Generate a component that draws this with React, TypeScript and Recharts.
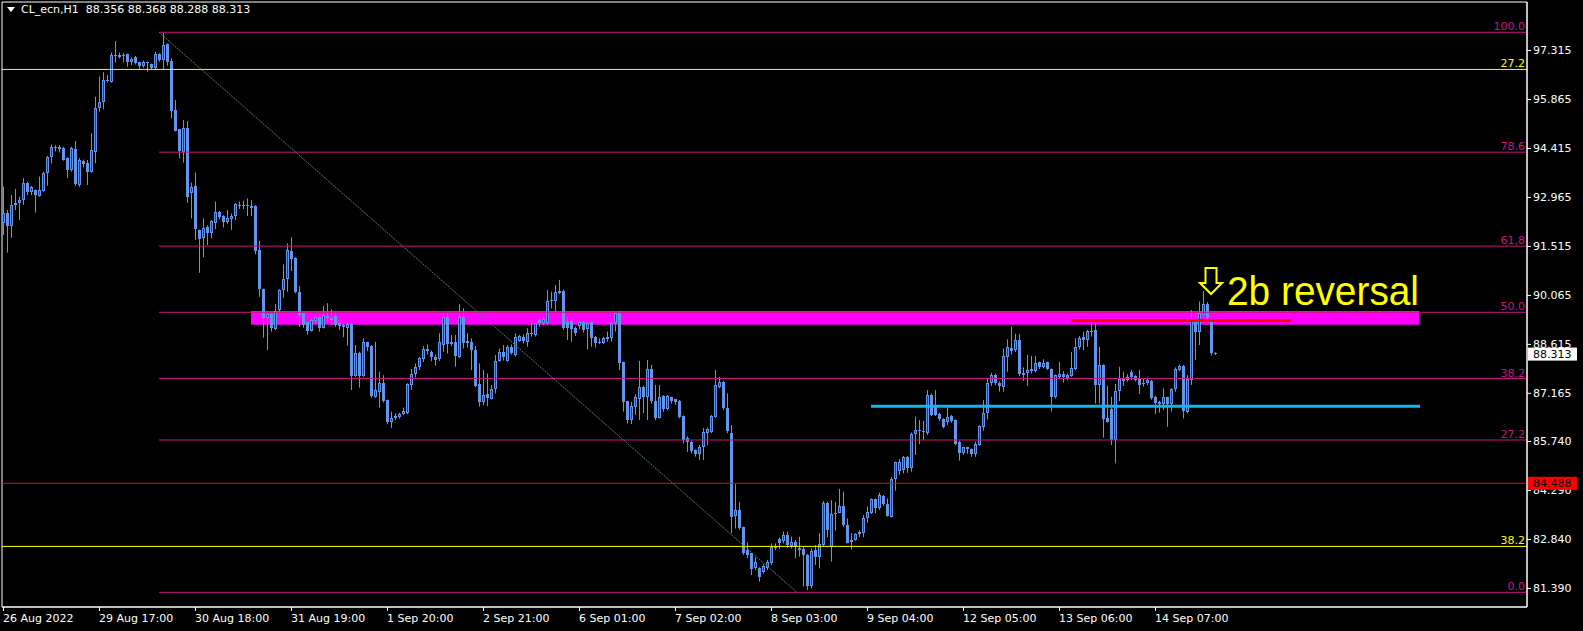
import React from 'react';
import {
  ComposedChart,
  Bar,
  XAxis,
  YAxis,
  ReferenceLine,
  ReferenceArea,
  ReferenceDot,
} from 'recharts';

// CL_ecn H1 candles (bar 0 = 26 Aug 2022)
const opens = [
  92.18, 92.50, 92.11, 92.73, 92.78, 92.86, 93.37, 93.10, 93.17, 93.00,
  93.15, 93.66, 94.14, 94.44, 94.38, 94.42, 94.13, 93.76, 94.38, 93.32,
  94.04, 93.98, 93.71, 94.31, 95.59, 95.79, 96.43, 96.38, 97.17, 97.18,
  97.15, 97.20, 96.97, 97.12, 96.95, 96.85, 96.95, 96.90, 96.79, 97.20,
  97.02, 97.49, 96.99, 95.54, 94.97, 94.31, 95.00, 93.07, 93.29, 91.99,
  91.76, 92.07, 91.91, 92.20, 92.53, 92.40, 92.22, 92.31, 92.40, 92.73,
  92.71, 92.72, 92.70, 92.70, 91.39, 90.24, 89.39, 89.49, 89.06, 89.62,
  90.20, 90.53, 91.36, 91.17, 90.16, 89.52, 89.25, 88.99, 89.29, 89.42,
  89.09, 89.45, 89.39, 89.45, 89.22, 89.17, 89.10, 89.21, 87.67, 88.36,
  87.67, 88.66, 88.56, 87.05, 87.20, 87.45, 86.96, 86.29, 86.43, 86.46,
  86.54, 86.58, 87.40, 87.72, 87.92, 88.16, 88.46, 88.38, 88.22, 88.18,
  88.58, 89.42, 88.68, 88.68, 88.24, 89.42, 88.71, 88.68, 88.43, 87.43,
  86.90, 87.13, 86.99, 87.28, 88.12, 88.38, 88.12, 88.53, 88.29, 88.71,
  88.83, 88.68, 88.95, 88.88, 89.32, 89.22, 89.22, 89.87, 89.87, 90.19,
  90.19, 89.27, 89.30, 89.08, 89.13, 89.27, 89.05, 89.27, 88.83, 88.68,
  88.63, 88.75, 88.80, 89.22, 89.54, 88.07, 86.92, 86.36, 86.76, 86.97,
  87.35, 87.05, 87.86, 86.93, 86.43, 87.08, 86.69, 87.03, 86.97, 86.93,
  86.48, 85.84, 85.72, 85.47, 85.37, 85.57, 85.98, 86.02, 86.46, 87.35,
  87.50, 86.71, 85.97, 83.52, 83.70, 83.18, 82.51, 82.41, 81.97, 81.97,
  81.87, 81.97, 82.12, 82.61, 82.84, 82.78, 82.96, 82.64, 82.76, 82.56,
  82.53, 82.37, 81.45, 82.51, 82.31, 82.66, 83.91, 82.61, 83.58, 83.60,
  83.82, 83.25, 82.81, 82.80, 82.99, 83.03, 83.45, 83.62, 84.01, 83.75,
  84.11, 83.88, 83.50, 84.63, 84.86, 84.88, 85.26, 84.95, 85.96, 86.07,
  86.04, 85.99, 87.10, 86.78, 86.54, 86.38, 86.31, 86.48, 86.36, 85.72,
  85.39, 85.55, 85.50, 85.35, 85.62, 86.16, 86.58, 87.45, 87.69, 87.47,
  87.35, 88.22, 88.49, 88.43, 88.73, 87.76, 87.74, 87.81, 87.82, 88.07,
  87.94, 88.07, 87.87, 87.05, 87.64, 87.72, 87.60, 87.67, 87.87, 88.51,
  88.83, 88.73, 89.00, 89.03, 87.40, 87.99, 86.43, 86.70, 85.77, 87.23,
  87.59, 87.56, 87.77, 87.66, 87.59, 87.47, 87.45, 87.52, 87.05, 86.90,
  86.85, 87.03, 86.85, 87.27, 87.84, 87.96, 86.61, 87.56, 89.30, 88.98,
  89.47, 89.79, 89.27, 88.356,
];

const highs = [
  93.27, 92.58, 93.02, 93.20, 92.97, 93.52, 93.42, 93.29, 93.18, 93.57,
  93.71, 94.18, 94.52, 94.50, 94.50, 94.45, 94.14, 94.45, 94.62, 94.11,
  94.07, 94.06, 94.85, 95.93, 96.53, 96.66, 96.57, 97.24, 97.58, 97.24,
  97.22, 97.21, 97.09, 97.14, 96.96, 97.00, 96.97, 96.91, 97.26, 97.22,
  97.83, 97.51, 97.07, 95.83, 94.98, 95.24, 95.21, 93.39, 93.69, 92.00,
  92.33, 92.13, 92.28, 92.83, 92.55, 92.42, 92.58, 92.48, 92.78, 92.83,
  92.85, 92.92, 92.87, 92.72, 91.67, 90.25, 89.59, 89.55, 89.80, 90.23,
  90.97, 91.59, 91.77, 91.18, 90.33, 89.55, 89.27, 89.37, 89.47, 89.49,
  89.74, 89.82, 89.64, 89.52, 89.32, 89.27, 89.25, 89.23, 88.58, 88.38,
  88.78, 88.68, 88.58, 88.68, 87.79, 87.69, 86.97, 86.61, 86.56, 86.58,
  86.73, 87.45, 87.88, 88.03, 88.23, 88.55, 88.60, 88.42, 88.30, 88.93,
  89.52, 89.52, 88.88, 88.88, 89.79, 89.67, 88.93, 88.78, 88.55, 88.04,
  87.84, 87.74, 87.40, 88.29, 88.48, 88.58, 88.58, 88.60, 88.93, 88.88,
  88.90, 89.08, 89.32, 89.32, 89.39, 89.42, 90.21, 90.16, 90.36, 90.51,
  90.22, 89.42, 89.37, 89.13, 89.32, 89.30, 89.27, 89.30, 88.85, 88.78,
  88.83, 88.98, 89.34, 89.54, 89.59, 88.09, 86.93, 86.90, 87.12, 88.11,
  87.38, 88.14, 87.99, 87.40, 87.40, 87.10, 87.10, 87.05, 86.99, 86.95,
  86.50, 85.88, 85.75, 85.49, 85.62, 86.12, 86.14, 86.51, 87.84, 87.64,
  87.52, 87.15, 86.21, 84.46, 83.94, 83.20, 82.74, 82.43, 82.30, 82.00,
  82.09, 82.22, 82.71, 82.71, 82.88, 83.06, 83.06, 82.91, 82.81, 82.91,
  82.61, 82.40, 82.56, 82.66, 83.01, 83.96, 83.94, 83.99, 83.94, 84.32,
  84.24, 83.45, 83.01, 83.01, 83.10, 83.55, 83.80, 84.04, 84.04, 84.21,
  84.14, 84.04, 84.67, 85.13, 85.20, 85.30, 85.30, 85.99, 86.46, 86.36,
  86.34, 87.25, 87.15, 87.25, 86.58, 86.41, 86.73, 86.51, 86.38, 85.75,
  85.57, 85.57, 85.52, 85.72, 86.21, 86.95, 87.59, 87.76, 87.74, 87.50,
  88.48, 88.75, 89.12, 88.91, 88.91, 87.92, 88.29, 88.26, 88.26, 88.09,
  88.16, 88.09, 87.89, 87.71, 88.08, 87.81, 87.74, 88.38, 88.78, 88.85,
  88.98, 89.03, 89.27, 89.27, 88.53, 88.01, 87.37, 87.05, 87.43, 87.94,
  87.79, 87.72, 87.84, 87.69, 87.84, 87.59, 87.62, 87.55, 87.08, 86.93,
  87.30, 87.05, 87.30, 87.92, 88.01, 87.99, 87.69, 89.62, 89.52, 89.87,
  90.18, 89.85, 89.30, 88.368,
];

const lows = [
  91.84, 91.32, 91.76, 92.58, 92.28, 92.73, 93.02, 93.02, 92.50, 92.97,
  93.12, 93.30, 93.96, 94.31, 94.28, 94.04, 93.52, 93.71, 93.29, 93.27,
  93.84, 93.32, 93.68, 93.96, 95.49, 95.56, 96.35, 96.35, 96.95, 97.07,
  96.95, 96.82, 96.87, 96.89, 96.75, 96.79, 96.67, 96.74, 96.74, 96.97,
  96.75, 96.85, 95.29, 94.90, 94.11, 93.98, 92.79, 92.33, 91.69, 90.72,
  91.18, 91.54, 91.74, 92.01, 92.30, 92.06, 92.16, 91.99, 92.28, 92.61,
  92.61, 92.40, 92.40, 91.27, 90.01, 88.80, 88.43, 88.98, 89.03, 89.52,
  89.98, 90.16, 90.77, 90.11, 89.12, 89.09, 88.88, 88.98, 89.22, 88.98,
  89.07, 89.27, 89.17, 89.12, 89.03, 88.81, 88.56, 87.25, 87.64, 87.32,
  87.64, 88.40, 87.02, 87.02, 86.73, 86.88, 86.24, 86.13, 86.36, 86.40,
  86.50, 86.54, 87.25, 87.62, 87.84, 88.08, 88.30, 88.10, 87.97, 88.11,
  88.38, 88.33, 88.55, 87.94, 88.19, 88.48, 88.51, 87.84, 87.33, 86.76,
  86.80, 86.77, 86.97, 87.15, 88.09, 88.12, 88.09, 88.30, 88.24, 88.68,
  88.63, 88.53, 88.83, 88.83, 89.12, 89.17, 89.17, 89.67, 89.54, 90.09,
  89.03, 88.73, 88.68, 88.85, 89.05, 88.95, 88.45, 88.53, 88.51, 88.61,
  88.61, 88.68, 88.68, 88.98, 87.84, 86.61, 86.26, 86.24, 86.51, 86.36,
  86.56, 86.36, 86.85, 86.36, 86.41, 86.61, 86.65, 86.85, 86.81, 86.41,
  85.67, 85.42, 85.37, 85.28, 85.18, 85.18, 85.62, 85.97, 86.43, 87.30,
  86.66, 85.97, 83.01, 83.15, 83.11, 82.37, 82.27, 81.77, 81.92, 81.58,
  81.82, 81.92, 82.07, 82.51, 82.55, 82.71, 82.58, 82.56, 82.27, 82.32,
  81.43, 81.33, 81.38, 82.07, 81.97, 82.61, 82.89, 82.17, 83.09, 83.60,
  83.20, 82.71, 82.53, 82.79, 82.89, 82.89, 83.32, 83.58, 83.60, 83.70,
  83.82, 83.50, 83.48, 84.27, 84.73, 84.78, 84.80, 84.83, 85.33, 85.65,
  85.77, 85.92, 86.48, 86.48, 86.34, 86.12, 86.21, 86.28, 85.62, 85.16,
  85.33, 85.36, 85.27, 85.27, 85.59, 86.05, 86.38, 87.37, 87.40, 87.20,
  87.20, 87.79, 88.30, 88.38, 87.66, 87.52, 87.37, 87.74, 87.77, 87.87,
  87.89, 87.84, 86.61, 87.00, 87.59, 87.47, 87.54, 87.64, 87.84, 88.45,
  88.43, 88.53, 88.83, 86.85, 86.85, 85.84, 86.28, 85.62, 85.08, 86.92,
  87.37, 87.50, 87.55, 87.50, 87.13, 87.35, 87.40, 86.97, 86.54, 86.58,
  86.66, 86.16, 86.61, 87.20, 87.81, 86.41, 86.56, 87.40, 88.14, 88.58,
  89.37, 89.30, 88.27, 88.288,
];

const closes = [
  92.50, 92.11, 92.73, 92.80, 92.87, 93.37, 93.10, 93.26, 93.02, 93.17,
  93.66, 94.16, 94.45, 94.43, 94.45, 94.06, 93.76, 94.42, 93.35, 94.06,
  93.95, 93.71, 94.35, 95.59, 95.79, 96.43, 96.44, 97.17, 97.15, 97.12,
  97.16, 96.97, 97.05, 96.92, 96.85, 96.96, 96.94, 96.78, 97.20, 97.02,
  97.46, 96.97, 95.51, 94.92, 94.33, 95.00, 92.97, 93.27, 92.01, 91.72,
  92.04, 91.91, 92.25, 92.53, 92.36, 92.22, 92.34, 92.41, 92.76, 92.71,
  92.72, 92.70, 92.65, 91.36, 90.24, 89.39, 89.49, 89.09, 89.59, 90.20,
  90.54, 91.39, 91.13, 90.16, 89.47, 89.17, 88.99, 89.32, 89.42, 89.09,
  89.47, 89.37, 89.32, 89.17, 89.14, 89.12, 89.21, 87.67, 88.36, 87.67,
  88.66, 88.53, 87.08, 87.24, 87.45, 86.93, 86.29, 86.43, 86.48, 86.54,
  86.64, 87.43, 87.72, 87.94, 88.19, 88.46, 88.39, 88.24, 88.14, 88.68,
  89.42, 88.61, 88.61, 88.26, 89.42, 88.65, 88.65, 88.43, 87.37, 86.90,
  87.10, 87.00, 87.28, 88.12, 88.38, 88.22, 88.51, 88.35, 88.83, 88.85,
  88.71, 88.95, 88.91, 89.22, 89.22, 89.34, 89.88, 89.91, 90.16, 90.13,
  89.08, 89.08, 89.05, 88.95, 89.27, 89.03, 89.22, 88.78, 88.65, 88.65,
  88.78, 88.83, 89.22, 89.52, 88.04, 86.90, 86.36, 86.79, 87.03, 87.35,
  87.05, 87.86, 86.93, 86.41, 87.05, 86.69, 87.07, 86.93, 86.90, 86.46,
  85.77, 85.70, 85.44, 85.37, 85.57, 86.02, 86.09, 86.48, 87.40, 87.50,
  86.71, 86.04, 83.50, 83.70, 83.15, 82.41, 82.37, 81.95, 82.17, 81.72,
  82.05, 82.15, 82.61, 82.56, 82.71, 82.96, 82.66, 82.76, 82.61, 82.51,
  82.37, 81.45, 82.49, 82.31, 82.68, 83.91, 83.10, 83.58, 83.62, 83.82,
  83.25, 82.73, 82.76, 82.99, 83.05, 83.45, 83.64, 84.01, 83.75, 84.14,
  83.88, 83.52, 84.63, 85.11, 85.11, 85.26, 84.95, 85.95, 86.07, 86.04,
  86.02, 87.10, 86.51, 86.51, 86.38, 86.16, 86.46, 86.34, 85.65, 85.39,
  85.55, 85.49, 85.35, 85.65, 86.18, 86.58, 87.45, 87.69, 87.45, 87.37,
  88.25, 88.51, 88.41, 88.73, 87.72, 87.69, 87.84, 87.88, 88.06, 87.94,
  88.04, 87.86, 87.05, 87.69, 87.72, 87.64, 87.68, 87.89, 88.51, 88.80,
  88.73, 89.00, 88.97, 87.40, 87.99, 86.40, 86.31, 85.77, 87.23, 87.59,
  87.52, 87.64, 87.62, 87.56, 87.40, 87.42, 87.55, 87.00, 86.87, 86.85,
  87.03, 86.85, 87.27, 87.87, 87.96, 86.64, 87.59, 89.30, 88.98, 89.52,
  89.79, 89.37, 88.34, 88.313,
];

const timeLabels = [
  '26 Aug 2022', '29 Aug 17:00', '30 Aug 18:00', '31 Aug 19:00', '1 Sep 20:00',
  '2 Sep 21:00', '6 Sep 01:00', '7 Sep 02:00', '8 Sep 03:00', '9 Sep 04:00',
  '12 Sep 05:00', '13 Sep 06:00', '14 Sep 07:00',
];
const timeTickBars = [0, 24, 48, 72, 96, 120, 144, 168, 192, 216, 240, 264, 288];

const priceTicks = [
  97.315, 95.865, 94.415, 92.965, 91.515, 90.065, 88.615, 87.165, 85.74, 84.29, 82.84, 81.39,
];
const lastPrice = 88.313;
const alertPrice = 84.488;

// fibo from the 97.84 top to the 81.26 low
const fibPrices = [97.84, 94.29, 91.51, 89.55, 87.59, 85.77, 81.26];
const fibLabels = ['100.0', '78.6', '61,8', '50.0', '38.2', '27.2', '0.0'];
const fibFromBar = 39;
const fibToBar = 198.5;

const yellowPrices = [96.74, 82.62];
const yellowLabels = ['27.2', '38.2'];

const zoneTop = 89.59;
const zoneBottom = 89.18;
const zoneFromBar = 62;
const zoneToBar = 354;

const supportPrice = 86.77;
const supportFromBar = 217;
const supportToBar = 354.25;

const highLinePrice = 89.31;
const highLineFromBar = 267;
const highLineToBar = 322;

const header = 'CL_ecn,H1  88.356 88.368 88.288 88.313';

const xDomain: [number, number] = [-0.25, 381];
const yDomain: [number, number] = [80.826, 98.736];

const font = '"DejaVu Sans", Tahoma, sans-serif';
const fibColor = '#c71585';
const candleColor = '#6495ed';
const bullFill = '#1428ff';

const data = opens.map((o, i) => ({
  i,
  o,
  h: highs[i],
  l: lows[i],
  c: closes[i],
  range: [lows[i], highs[i]],
}));

function Candle(props: any) {
  const { x, y, width, height, payload } = props;
  const { o, h, l, c } = payload;
  const k = h > l ? height / (h - l) : 0;
  const cx = Math.round(x + width / 2);
  const yo = y + (h - o) * k;
  const yc = y + (h - c) * k;
  const top = Math.round(Math.min(yo, yc));
  const bh = Math.max(1, Math.round(Math.max(yo, yc)) - top);
  const bull = c >= o;
  return (
    <g>
      <rect x={cx} y={y} width={1} height={Math.max(1, height)} fill={candleColor} />
      {bull && bh > 2 ? (
        <rect x={cx - 0.5} y={top + 0.5} width={2} height={bh - 1} fill={bullFill} stroke={candleColor} strokeWidth={1} />
      ) : (
        <rect x={cx - 1} y={top} width={3} height={bh} fill={candleColor} />
      )}
    </g>
  );
}

function TimeTick(props: any) {
  const { x, y, payload } = props;
  const idx = timeTickBars.indexOf(payload.value);
  return (
    <g>
      <line x1={x + 0.5} x2={x + 0.5} y1={y} y2={y + 4} stroke="#fff" />
      <text x={x} y={y + 15} fill="#fff" fontSize={11} fontFamily={font}>
        {timeLabels[idx]}
      </text>
    </g>
  );
}

function PriceTick(props: any) {
  const { x, y, payload } = props;
  const v = payload.value;
  if (v === lastPrice || v === alertPrice) {
    const isLast = v === lastPrice;
    return (
      <g>
        <rect x={x + 1} y={y - 6.5} width={49} height={13} fill={isLast ? '#fff' : '#ff0000'} />
        <text x={x + 6} y={y + 4} fill="#000" fontSize={11} fontFamily={font}>
          {v.toFixed(3)}
        </text>
      </g>
    );
  }
  return (
    <g>
      <line x1={x} x2={x + 4} y1={y + 0.5} y2={y + 0.5} stroke="#fff" />
      <text x={x + 6} y={y + 4} fill="#fff" fontSize={11} fontFamily={font}>
        {v.toFixed(3)}
      </text>
    </g>
  );
}

const levelLabel = (text: string, color: string) => (p: any) => {
  const vb = p.viewBox || {};
  return (
    <text
      x={vb.x + vb.width - 2}
      y={vb.y - 2}
      textAnchor="end"
      fill={color}
      fontSize={11}
      fontFamily={font}
    >
      {text}
    </text>
  );
};

function DownArrow(props: any) {
  const { cx, cy } = props;
  const d = [
    `M${cx - 5.5},${cy - 13}`,
    `L${cx + 5.5},${cy - 13}`,
    `L${cx + 5.5},${cy + 2}`,
    `L${cx + 11},${cy + 2}`,
    `L${cx},${cy + 13}`,
    `L${cx - 11},${cy + 2}`,
    `L${cx - 5.5},${cy + 2}`,
    'Z',
  ].join(' ');
  return <path d={d} fill="none" stroke="#ffff00" strokeWidth={2} />;
}

function NoteText(props: any) {
  const { cx, cy } = props;
  return (
    <text
      x={cx}
      y={cy}
      fill="#ffff00"
      fontSize={40}
      textLength={192}
      lengthAdjust="spacingAndGlyphs"
      fontFamily='"Liberation Sans", Arial, sans-serif'
    >
      2b reversal
    </text>
  );
}

export default function App() {
  return (
    <div style={{ position: 'absolute', left: 0, top: 0, width: 1583, height: 631, background: '#000' }}>
      <style>{'body{margin:0;background:#000}'}</style>
      <ComposedChart
        width={1583}
        height={631}
        data={data}
        margin={{ top: 2, right: 0, bottom: 0, left: 2 }}
      >
        <XAxis
          dataKey="i"
          type="number"
          domain={xDomain}
          allowDataOverflow
          ticks={timeTickBars}
          interval={0}
          height={24}
          axisLine={{ stroke: '#fff' }}
          tickLine={false}
          tickSize={0}
          tickMargin={0}
          tick={<TimeTick />}
        />
        <YAxis
          orientation="right"
          type="number"
          domain={yDomain}
          allowDataOverflow
          ticks={[...priceTicks, alertPrice, lastPrice]}
          interval={0}
          width={56}
          axisLine={{ stroke: '#fff' }}
          tickLine={false}
          tickSize={0}
          tickMargin={0}
          tick={<PriceTick />}
        />
        <ReferenceArea
          x1={xDomain[0]}
          x2={xDomain[1]}
          y1={yDomain[0]}
          y2={yDomain[1]}
          fill="none"
          stroke="#fff"
          strokeWidth={1}
        />
        <ReferenceArea
          x1={zoneFromBar}
          x2={zoneToBar}
          y1={zoneBottom}
          y2={zoneTop}
          fill="#ff00ff"
          fillOpacity={1}
          stroke="none"
        />
        {yellowPrices.map((p, k) => (
          <ReferenceLine
            key={`y${k}`}
            y={p}
            stroke="#ffff00"
            strokeWidth={1}
            label={levelLabel(yellowLabels[k], '#ffff00')}
          />
        ))}
        {fibPrices.map((p, k) => (
          <ReferenceLine
            key={`f${k}`}
            segment={[
              { x: fibFromBar, y: p },
              { x: xDomain[1], y: p },
            ]}
            stroke={fibColor}
            strokeWidth={1}
            label={levelLabel(fibLabels[k], fibColor)}
          />
        ))}
        <ReferenceLine y={alertPrice} stroke="#ff0000" strokeWidth={1} />
        <ReferenceLine
          segment={[
            { x: fibFromBar, y: fibPrices[0] },
            { x: fibToBar, y: fibPrices[fibPrices.length - 1] },
          ]}
          stroke="#4d8072"
          strokeDasharray="2 1"
          strokeWidth={1}
        />
        <ReferenceLine
          segment={[
            { x: supportFromBar, y: supportPrice },
            { x: supportToBar, y: supportPrice },
          ]}
          stroke="#14b4ee"
          strokeWidth={3}
        />
        <ReferenceLine
          segment={[
            { x: highLineFromBar, y: highLinePrice },
            { x: highLineToBar, y: highLinePrice },
          ]}
          stroke="#ff0000"
          strokeWidth={3}
        />
        <Bar dataKey="range" barSize={3} shape={<Candle />} isAnimationActive={false} />
        <ReferenceDot x={302} y={90.477} r={0} shape={<DownArrow />} />
        <ReferenceDot x={306} y={89.766} r={0} shape={<NoteText />} />
      </ComposedChart>
      <div
        style={{
          position: 'absolute',
          left: 7,
          top: 3,
          color: '#fff',
          fontFamily: font,
          fontSize: 11,
          whiteSpace: 'pre',
          display: 'flex',
          alignItems: 'center',
        }}
      >
        <svg width={8} height={6} style={{ marginRight: 6 }}>
          <polygon points="0,0 8,0 4,5" fill="#fff" />
        </svg>
        {header}
      </div>
    </div>
  );
}
